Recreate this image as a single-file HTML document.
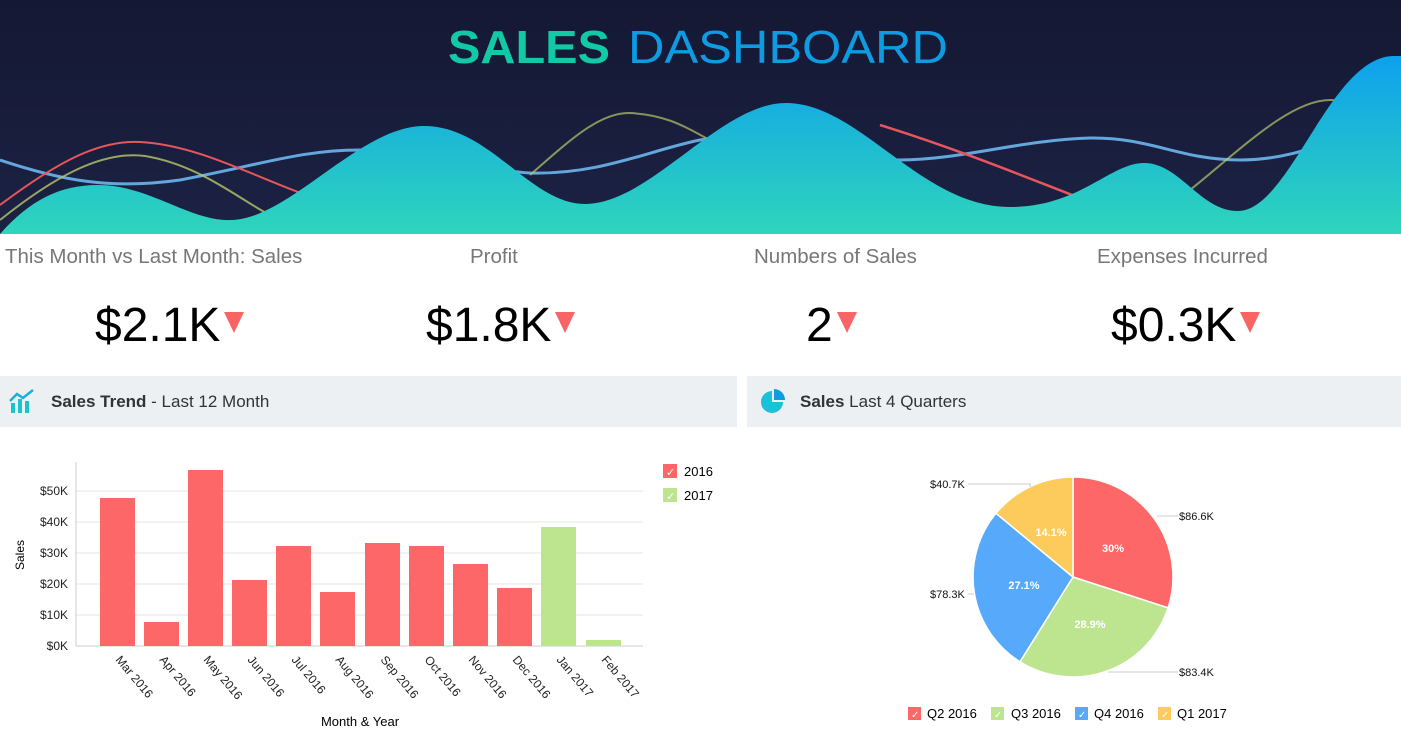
<!DOCTYPE html>
<html><head><meta charset="utf-8"><style>
body{margin:0;width:1401px;height:734px;overflow:hidden;background:#fff;font-family:"Liberation Sans",sans-serif;position:relative}
.k{position:absolute;color:#777;font-size:20.5px;top:245px}
.v{position:absolute;font-size:48px;color:#000;top:298px}
.tri{display:inline-block;width:0;height:0;border-left:10px solid transparent;border-right:10px solid transparent;border-top:21px solid #f96464;margin-left:4px;vertical-align:8px}
.hd{position:absolute;top:376px;height:51px;background:#edf0f3;font-size:17px;color:#333;line-height:52px}
</style></head><body>
<svg width="1401" height="234" style="position:absolute;left:0;top:0">
<defs>
<linearGradient id="bg" x1="0" y1="0" x2="0" y2="1"><stop offset="0" stop-color="#141833"/><stop offset="1" stop-color="#1c2244"/></linearGradient>
<linearGradient id="hill" x1="0" y1="0" x2="0" y2="1"><stop offset="0" stop-color="#0ea0ee"/><stop offset="0.55" stop-color="#20bed0"/><stop offset="1" stop-color="#2fd5bb"/></linearGradient>
</defs>
<rect width="1401" height="234" fill="url(#bg)"/>
<path d="M0,160 C60,180 110,190 180,180 C260,165 300,150 360,150 C430,150 480,170 530,173 C600,175 650,150 700,140 C760,130 800,160 900,160 C960,160 1020,140 1090,138 C1150,137 1180,160 1240,160 C1300,160 1340,135 1401,120" stroke="#6cb6f0" stroke-width="3" fill="none" opacity="0.9"/>
<path d="M0,205 C60,160 100,140 140,142 C200,145 260,180 320,200" stroke="#e8565c" stroke-width="2" fill="none"/>
<path d="M880,125 C960,150 1020,175 1080,198" stroke="#e8565c" stroke-width="2.5" fill="none"/>
<path d="M0,220 C50,180 100,150 145,156 C200,165 240,200 270,215" stroke="#b8c86a" stroke-width="2" fill="none" opacity="0.8"/>
<path d="M530,175 C570,140 600,112 630,113 C670,115 690,130 710,140" stroke="#b8c86a" stroke-width="2" fill="none" opacity="0.7"/>
<path d="M1190,190 C1240,150 1290,100 1330,100 C1350,100 1360,105 1370,110" stroke="#b8c86a" stroke-width="2" fill="none" opacity="0.7"/>
<path d="M0,234 C30,200 60,185 98,185 C150,185 190,222 232,220 C290,218 360,126 424,126 C490,126 530,204 585,204 C650,204 720,103 786,103 C860,103 920,207 1010,207 C1080,207 1110,163 1144,163 C1180,163 1200,211 1238,211 C1290,211 1330,56 1394,56 L1401,56 L1401,234 Z" fill="url(#hill)"/>
<text x="448" y="63" font-family="Liberation Sans" font-size="46" font-weight="bold" fill="#12c9a5" textLength="162" lengthAdjust="spacingAndGlyphs">SALES</text>
<text x="628" y="63" font-family="Liberation Sans" font-size="46" fill="#0e9be2" font-weight="300" textLength="320" lengthAdjust="spacingAndGlyphs">DASHBOARD</text>
</svg>
<div class="k" style="left:5px">This Month vs Last Month: Sales</div>
<div class="k" style="left:470px">Profit</div>
<div class="k" style="left:754px">Numbers of Sales</div>
<div class="k" style="left:1097px">Expenses Incurred</div>
<div class="v" style="left:95px">$2.1K<span class="tri"></span></div>
<div class="v" style="left:426px">$1.8K<span class="tri"></span></div>
<div class="v" style="left:806px">2<span class="tri"></span></div>
<div class="v" style="left:1111px">$0.3K<span class="tri"></span></div>
<div class="hd" style="left:0;width:737px"><svg width="30" height="24" style="position:absolute;left:9px;top:13px"><rect x="2" y="14" width="4" height="10" fill="#1cc3c8"/><rect x="9" y="10" width="4" height="14" fill="#1cc3c8"/><rect x="16" y="12" width="4" height="12" fill="#1cc3c8"/><path d="M1,12 L8,5 L14,9 L24,1" stroke="#1cb0d8" stroke-width="2.5" fill="none"/></svg><span style="position:absolute;left:51px"><b>Sales Trend</b> - Last 12 Month</span></div>
<div class="hd" style="left:747px;width:654px"><svg width="26" height="26" style="position:absolute;left:13px;top:12px"><path d="M12,3 A11,11 0 1 0 23,14 L12,14 Z" fill="#1cc0d8"/><path d="M14,1 A11,11 0 0 1 25,12 L14,12 Z" fill="#0e9be2"/></svg><span style="position:absolute;left:53px"><b>Sales</b> Last 4 Quarters</span></div>
<svg width="1401" height="734" style="position:absolute;left:0;top:0" font-family="Liberation Sans">
<g stroke="#e6e6e6"><line x1="76" x2="643" y1="615" y2="615"/><line x1="76" x2="643" y1="584" y2="584"/><line x1="76" x2="643" y1="553" y2="553"/><line x1="76" x2="643" y1="522" y2="522"/><line x1="76" x2="643" y1="491" y2="491"/></g>
<line x1="76" x2="76" y1="462" y2="646" stroke="#ccc"/>
<line x1="76" x2="643" y1="646" y2="646" stroke="#ccc"/>
<g font-size="12" fill="#222" text-anchor="end"><text x="68" y="650">$0K</text><text x="68" y="619">$10K</text><text x="68" y="588">$20K</text><text x="68" y="557">$30K</text><text x="68" y="526">$40K</text><text x="68" y="495">$50K</text></g>
<text transform="translate(24,555) rotate(-90)" font-size="12" text-anchor="middle">Sales</text>
<text x="360" y="726" font-size="13" text-anchor="middle">Month &amp; Year</text>
<g fill="#fd6767">
<rect x="100" y="498" width="35" height="148"/><rect x="144" y="622" width="35" height="24"/><rect x="188" y="470" width="35" height="176"/><rect x="232" y="580" width="35" height="66"/><rect x="276" y="546" width="35" height="100"/><rect x="320" y="592" width="35" height="54"/><rect x="365" y="543" width="35" height="103"/><rect x="409" y="546" width="35" height="100"/><rect x="453" y="564" width="35" height="82"/><rect x="497" y="588" width="35" height="58"/></g>
<g fill="#bde48e"><rect x="541" y="527" width="35" height="119"/><rect x="586" y="640" width="35" height="6"/></g>
<g font-size="12" fill="#222">
<text transform="translate(115,660) rotate(50)">Mar 2016</text><text transform="translate(159,660) rotate(50)">Apr 2016</text><text transform="translate(203,660) rotate(50)">May 2016</text><text transform="translate(247,660) rotate(50)">Jun 2016</text><text transform="translate(291,660) rotate(50)">Jul 2016</text><text transform="translate(335,660) rotate(50)">Aug 2016</text><text transform="translate(380,660) rotate(50)">Sep 2016</text><text transform="translate(424,660) rotate(50)">Oct 2016</text><text transform="translate(468,660) rotate(50)">Nov 2016</text><text transform="translate(512,660) rotate(50)">Dec 2016</text><text transform="translate(556,660) rotate(50)">Jan 2017</text><text transform="translate(601,660) rotate(50)">Feb 2017</text></g>
<rect x="663" y="464" width="14" height="14" fill="#fd6767"/><text x="666" y="476" font-size="11" fill="#fff">✓</text><text x="684" y="476" font-size="13">2016</text>
<rect x="663" y="488" width="14" height="14" fill="#bde48e"/><text x="666" y="500" font-size="11" fill="#fff">✓</text><text x="684" y="500" font-size="13">2017</text>
<g stroke="#fff" stroke-width="1.5">
<path d="M1073,577 L1073,477 A100,100 0 0 1 1168.1,607.9 Z" fill="#fd6767"/>
<path d="M1073,577 L1168.1,607.9 A100,100 0 0 1 1020,661.8 Z" fill="#bde48e"/>
<path d="M1073,577 L1020,661.8 A100,100 0 0 1 996,513.3 Z" fill="#57a9fb"/>
<path d="M1073,577 L996,513.3 A100,100 0 0 1 1073,477 Z" fill="#fdcb5c"/></g>
<g font-size="11" font-weight="bold" fill="#fff" text-anchor="middle"><text x="1113" y="552">30%</text><text x="1090" y="628">28.9%</text><text x="1024" y="589">27.1%</text><text x="1051" y="536">14.1%</text></g>
<g stroke="#ccc" fill="none"><path d="M1157,516 L1178,516"/><path d="M1108,672 L1178,672"/><path d="M968,484 L1030,484 L1030,487"/><path d="M968,594 L974,594"/></g>
<g font-size="11" fill="#111"><text x="1179" y="520">$86.6K</text><text x="1179" y="676">$83.4K</text><text x="930" y="488">$40.7K</text><text x="930" y="598">$78.3K</text></g>
<g font-size="13"><rect x="908" y="707" width="13" height="13" fill="#fd6767"/><text x="911" y="718" font-size="10" fill="#fff">✓</text><text x="927" y="718">Q2 2016</text>
<rect x="991" y="707" width="13" height="13" fill="#bde48e"/><text x="994" y="718" font-size="10" fill="#fff">✓</text><text x="1011" y="718">Q3 2016</text>
<rect x="1075" y="707" width="13" height="13" fill="#57a9fb"/><text x="1078" y="718" font-size="10" fill="#fff">✓</text><text x="1094" y="718">Q4 2016</text>
<rect x="1158" y="707" width="13" height="13" fill="#fdcb5c"/><text x="1161" y="718" font-size="10" fill="#fff">✓</text><text x="1177" y="718">Q1 2017</text></g>
</svg>
</body></html>
